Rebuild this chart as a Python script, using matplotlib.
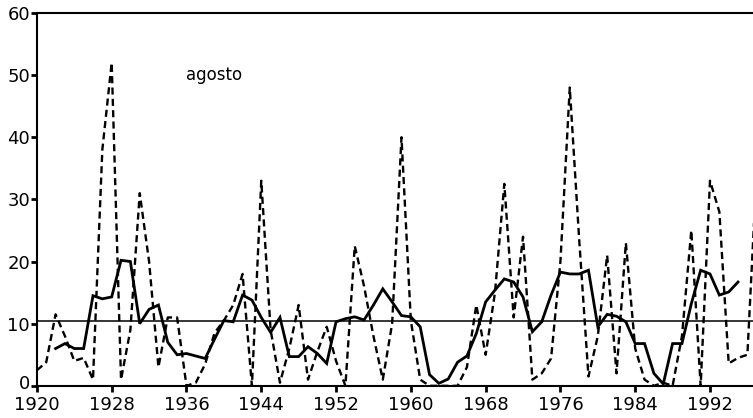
import numpy as np
import matplotlib
matplotlib.use('Agg')
import matplotlib.pyplot as plt
from matplotlib.transforms import ScaledTranslation

# annual values (dashed)
years = np.arange(1920, 1998)
annual = [2.5, 3.8, 11.5, 8, 4, 4.5, 1, 38, 52, 1,
          9, 31, 20, 3, 11, 11, 0, 0.5, 3.5, 8.5,
          10.5, 13, 18, 0, 33, 9, 0.5, 6, 13, 1,
          5.5, 9.5, 4, 0, 22.5, 16, 8, 1, 10, 40,
          10.5, 1, 0, 0, 0, 0, 3, 13, 5, 15,
          32.5, 11, 24, 1, 2, 4.4, 20, 48, 23.7, 1.5,
          8, 21, 2, 23, 6, 1, 0, 0.5, 0, 8,
          25, 0, 33, 28, 3.6, 4.5, 5, 35]

# smoothed curve (solid)
smooth_years = np.arange(1922, 1996)
smooth = [6, 6.8, 6, 6, 14.5, 14, 14.3, 20.2, 20, 10,
          12.3, 13, 7, 5, 5.2, 4.8, 4.4, 7.5, 10.5, 10.3,
          14.6, 13.8, 11, 8.6, 11, 4.7, 4.7, 6.3, 5.2, 3.6,
          10.3, 10.8, 11.1, 10.6, 13, 15.6, 13.5, 11.3, 11.1, 9.5,
          1.8, 0.4, 1.1, 3.8, 4.8, 8.4, 13.5, 15.4, 17.2, 16.7,
          14.3, 8.7, 10.3, 14.6, 18.3, 18, 18, 18.6, 9.5, 11.5,
          11.2, 10.3, 6.8, 6.8, 2, 0.3, 6.8, 6.8, 13.2, 18.6,
          18, 14.6, 15.1, 16.7]

mean_value = 10.5
label = 'agosto'

xticks = [1920, 1928, 1936, 1944, 1952, 1960, 1968, 1976, 1984, 1992]
yticks = [0, 10, 20, 30, 40, 50, 60]

fig = plt.figure(figsize=(7.53, 4.18), dpi=100)
ax = fig.add_axes([0.049, 0.077, 0.951, 0.892])

ax.plot(years, annual, color='black', lw=1.7, ls=(0, (3, 1.8)))
ax.plot(smooth_years, smooth, color='black', lw=2.0, solid_joinstyle='miter')
ax.axhline(mean_value, color='black', lw=1.1)

ax.text(1939, 50, label, ha='center', va='center', fontsize=12)

ax.set_xlim(1920, 1996.6)
ax.set_ylim(0, 60)
ax.set_xticks(xticks)
ax.set_yticks(yticks)
ax.tick_params(axis='both', direction='out', length=4, width=2, labelsize=13, pad=1)
ax.tick_params(axis='x', pad=3)
ax.spines['right'].set_visible(False)
for s in ['left', 'top', 'bottom']:
    ax.spines[s].set_linewidth(1.5)

# the bottom "0" sits a little above its tick in the original
lab0 = ax.get_yticklabels()[0]
lab0.set_transform(lab0.get_transform() + ScaledTranslation(0, 4 / 100, fig.dpi_scale_trans))

fig.savefig('out.png', dpi=100)
